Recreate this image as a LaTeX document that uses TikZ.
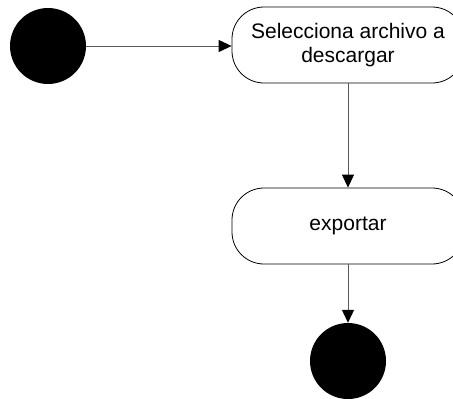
\documentclass[tikz,border=0pt]{standalone}
\usepackage{fontspec}
\setmainfont{Liberation Sans}
\usetikzlibrary{arrows.meta}
\begin{document}
\begin{tikzpicture}[x=1pt,y=-1pt,
  activity/.style={draw=black, line width=0.8pt, rounded corners=32pt,
    minimum width=232pt, minimum height=76pt, align=center,
    inner sep=0pt, font=\fontsize{21}{24}\selectfont},
  terminal/.style={circle, fill=black, minimum size=76pt, inner sep=0pt},
  flow/.style={draw=black!65, line width=1pt,
    -{Triangle[length=13pt,width=12pt,fill=black,color=black]}}]
  \useasboundingbox (0,0) rectangle (453,399);
  \clip (0,0) rectangle (453,399);
  \node[terminal] (start) at (48,46) {};
  \node[activity] (sel) at (348,45) {Selecciona archivo a\\descargar};
  \node[activity] (exp) at (348,226) {exportar};
  \node[terminal] (end) at (348,361) {};
  \draw[flow] (start.east) -- (sel.west |- start.east);
  \draw[flow] (sel.south) -- (exp.north);
  \draw[flow] (exp.south) -- (end.north);
\end{tikzpicture}
\end{document}
